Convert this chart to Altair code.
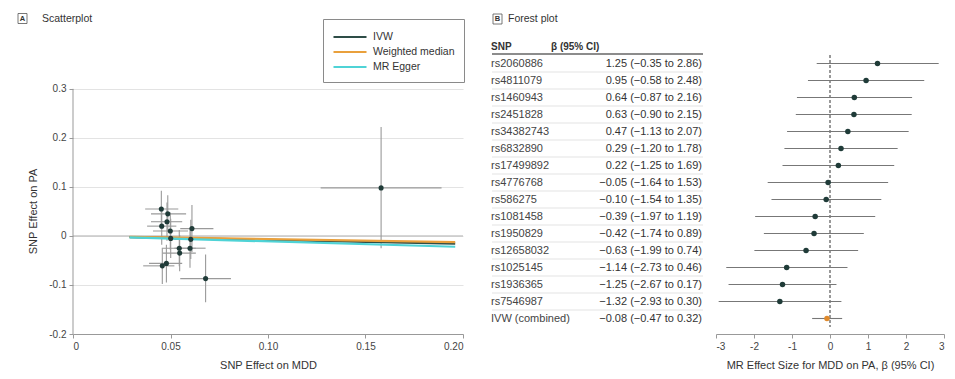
import altair as alt
import pandas as pd

FONT = "Liberation Sans, Arial, sans-serif"

# ---------------- Scatterplot data ----------------
snp_mdd = [0.0453, 0.0486, 0.0482, 0.0455, 0.0499, 0.0501, 0.0610, 0.0604, 0.0600, 0.0545, 0.0547, 0.0458, 0.0479, 0.0680, 0.1580]
snp_pa = [0.055, 0.045, 0.029, 0.020, 0.010, -0.005, 0.015, -0.007, -0.025, -0.025, -0.035, -0.061, -0.056, -0.087, 0.098]
mdd_lo = [0.037, 0.040, 0.040, 0.038, 0.041, 0.041, 0.055, 0.052, 0.052, 0.046, 0.046, 0.036, 0.039, 0.055, 0.127]
mdd_hi = [0.054, 0.058, 0.056, 0.053, 0.059, 0.059, 0.072, 0.069, 0.068, 0.063, 0.063, 0.052, 0.056, 0.081, 0.189]
pa_lo = [0.018, 0.008, -0.010, -0.018, -0.028, -0.045, -0.033, -0.047, -0.065, -0.062, -0.072, -0.098, -0.095, -0.135, -0.025]
pa_hi = [0.092, 0.083, 0.068, 0.058, 0.048, 0.035, 0.063, 0.033, 0.015, 0.012, 0.002, -0.024, -0.018, -0.038, 0.222]

methods = ["IVW", "Weighted median", "MR Egger"]
method_colors = ["#2e4d47", "#e9a03c", "#4fd3d6"]
line_x0 = [0.029, 0.029, 0.029]
line_x1 = [0.196, 0.196, 0.196]
line_y0 = [-0.0023, -0.0019, -0.0030]
line_y1 = [-0.0157, -0.0125, -0.0220]

x_ticks = [0, 0.05, 0.10, 0.15, 0.20]
y_ticks = [-0.2, -0.1, 0, 0.1, 0.2, 0.3]
y_axis_span = [-0.2, 0.3]

# ---------------- Forest plot data ----------------
snps = ["rs2060886", "rs4811079", "rs1460943", "rs2451828", "rs34382743", "rs6832890",
        "rs17499892", "rs4776768", "rs586275", "rs1081458", "rs1950829", "rs12658032",
        "rs1025145", "rs1936365", "rs7546987", "IVW (combined)"]
beta = [1.25, 0.95, 0.64, 0.63, 0.47, 0.29, 0.22, -0.05, -0.10, -0.39, -0.42, -0.63, -1.14, -1.25, -1.32, -0.08]
beta_lo = [-0.35, -0.58, -0.87, -0.90, -1.13, -1.20, -1.25, -1.64, -1.54, -1.97, -1.74, -1.99, -2.73, -2.67, -2.93, -0.47]
beta_hi = [2.86, 2.48, 2.16, 2.15, 2.07, 1.78, 1.69, 1.53, 1.35, 1.19, 0.89, 0.74, 0.46, 0.17, 0.30, 0.32]
forest_ticks = [-3, -2, -1, 0, 1, 2, 3]


def fmt(v):
    s = f"{v:.2f}"
    return s.replace("-", "\u2212")


labels = [f"{fmt(b)} ({fmt(l)} to {fmt(h)})" for b, l, h in zip(beta, beta_lo, beta_hi)]

# ---------------- Scatterplot ----------------
sc = pd.DataFrame({"x": snp_mdd, "y": snp_pa, "x_lo": mdd_lo, "x_hi": mdd_hi, "y_lo": pa_lo, "y_hi": pa_hi})
ln = pd.DataFrame({"method": methods, "x0": line_x0, "x1": line_x1, "y0": line_y0, "y1": line_y1})

xs = alt.Scale(domain=[0, 0.2], nice=False, zero=False)
ys = alt.Scale(domain=[-0.2, 0.4037], nice=False, zero=False)

axis_common = dict(labelFont=FONT, titleFont=FONT, labelFontSize=10, titleFontSize=11,
                   labelColor="#444", titleColor="#333", titleFontWeight="normal",
                   domainColor="#999", tickColor="#999", tickSize=4)

xaxis = alt.Axis(title="SNP Effect on MDD", values=x_ticks, grid=False, labelPadding=3, titlePadding=8,
                 labelExpr="datum.value == 0 ? '0' : format(datum.value, '.2f')", **axis_common)
yaxis = alt.Axis(title=None, values=y_ticks, grid=True, gridColor="#e3e3e3", labelPadding=3,
                 domain=False,
                 labelExpr="datum.value == 0 ? '0' : (datum.value < 0 ? '-' : '') + format(abs(datum.value), '.1f')",
                 **axis_common)

zero_line = alt.Chart(pd.DataFrame({"yz": [0]})).mark_rule(color="#b5b5b5", strokeWidth=1).encode(
    y=alt.Y("yz:Q", scale=ys, axis=yaxis))
yaxis_line = alt.Chart(pd.DataFrame({"xa": [0], "ya0": [y_axis_span[0]], "ya1": [y_axis_span[1]]})).mark_rule(
    color="#999", strokeWidth=1).encode(
    x=alt.X("xa:Q", scale=xs, axis=xaxis), y=alt.Y("ya0:Q", scale=ys, axis=yaxis), y2="ya1:Q")

errx = alt.Chart(sc).mark_rule(color="#9a9a9a", strokeWidth=1.1).encode(
    x=alt.X("x_lo:Q", scale=xs, axis=xaxis), x2="x_hi:Q", y=alt.Y("y:Q", scale=ys, axis=yaxis))
erry = alt.Chart(sc).mark_rule(color="#9a9a9a", strokeWidth=1.1).encode(
    x=alt.X("x:Q", scale=xs, axis=xaxis), y=alt.Y("y_lo:Q", scale=ys, axis=yaxis), y2="y_hi:Q")

lines = alt.Chart(ln).mark_rule(strokeWidth=2.2).encode(
    x=alt.X("x0:Q", scale=xs, axis=xaxis), x2="x1:Q",
    y=alt.Y("y0:Q", scale=ys, axis=yaxis), y2="y1:Q",
    color=alt.Color("method:N", scale=alt.Scale(domain=methods, range=method_colors), sort=methods,
                    title=None,
                    legend=alt.Legend(orient="none", legendX=250, legendY=-19, symbolType="M-1,0H3.4",
                                      symbolSize=225, symbolStrokeWidth=2.2, strokeColor="#8a8a8a",
                                      fillColor="white", padding=9, labelFont=FONT, labelFontSize=10.5,
                                      labelColor="#333", rowPadding=0, labelOffset=23)))

pts = alt.Chart(sc).mark_circle(size=26, color="#1f3b38", opacity=1).encode(
    x=alt.X("x:Q", scale=xs, axis=xaxis), y=alt.Y("y:Q", scale=ys, axis=yaxis))

ytitle = alt.Chart(pd.DataFrame({"t": ["SNP Effect on PA"]})).mark_text(
    font=FONT, fontSize=11, color="#333", align="center", baseline="middle", angle=270).encode(
    x=alt.value(-39), y=alt.value(173.5), text="t:N")

tA = pd.DataFrame({"t": ["A"]})
boxA = alt.Chart(tA).mark_rect(fill="white", stroke="#555", strokeWidth=0.8).encode(
    x=alt.value(-55), x2=alt.value(-46), y=alt.value(-24.5), y2=alt.value(-14.5))
letA = alt.Chart(tA).mark_text(font=FONT, fontSize=7.5, fontWeight="bold", color="#333",
                               align="center", baseline="middle").encode(
    x=alt.value(-50.5), y=alt.value(-19.3), text="t:N")
ttlA = alt.Chart(pd.DataFrame({"t": ["Scatterplot"]})).mark_text(
    font=FONT, fontSize=10.5, color="#333", align="left", baseline="middle").encode(
    x=alt.value(-31), y=alt.value(-19.5), text="t:N")

scatter = alt.layer(zero_line, yaxis_line, errx, erry, lines, pts, ytitle, boxA, letA, ttlA).properties(
    width=390, height=296, view=alt.ViewBackground(strokeOpacity=0, strokeWidth=0))

# ---------------- Forest plot ----------------
kind = ["snp"] * 15 + ["ivw"]
fd = pd.DataFrame({"row": snps, "beta": beta, "lo": beta_lo, "hi": beta_hi, "label": labels, "kind": kind})
ydom = ["hdr"] + snps
yS = alt.Scale(domain=ydom, paddingInner=0, paddingOuter=0)
fxS = alt.Scale(domain=[-3, 3], nice=False, zero=False)
faxis = alt.Axis(title="MR Effect Size for MDD on PA, \u03b2 (95% CI)", values=forest_ticks, grid=False,
                 offset=7, labelPadding=3, titlePadding=8,
                 labelExpr="(datum.value < 0 ? '-' : '') + format(abs(datum.value), 'd')", **axis_common)

fbars = alt.Chart(fd).mark_rule(color="#777", strokeWidth=1.1).encode(
    x=alt.X("lo:Q", scale=fxS, axis=faxis), x2="hi:Q", y=alt.Y("row:N", scale=yS, axis=None))
fzero = alt.Chart(pd.DataFrame({"z": [0]})).mark_rule(color="#333", strokeDash=[3, 2], strokeWidth=1).encode(
    x=alt.X("z:Q", scale=fxS, axis=faxis), y=alt.value(17), y2=alt.value(289))
fpts = alt.Chart(fd).mark_circle(size=30, opacity=1).encode(
    x=alt.X("beta:Q", scale=fxS, axis=faxis), y=alt.Y("row:N", scale=yS, axis=None),
    color=alt.Color("kind:N", scale=alt.Scale(domain=["snp", "ivw"], range=["#1f3b38", "#e08a2c"]), legend=None))

sep = alt.Chart(pd.DataFrame({"row": snps[1:]})).mark_rule(color="#dcdcdc", strokeWidth=0.8).encode(
    x=alt.value(-224), x2=alt.value(-13), y=alt.Y("row:N", scale=yS, axis=None, bandPosition=0))
hline = alt.Chart(pd.DataFrame({"row": ["hdr"]})).mark_rule(color="#666", strokeWidth=1.4).encode(
    x=alt.value(-224), x2=alt.value(-13), y=alt.value(16))

snp_txt = alt.Chart(fd).mark_text(font=FONT, fontSize=11, color="#444", align="left", baseline="middle").encode(
    x=alt.value(-225), y=alt.Y("row:N", scale=yS, axis=None), text="row:N")
beta_txt = alt.Chart(fd).mark_text(font=FONT, fontSize=11, color="#333", align="right", baseline="middle").encode(
    x=alt.value(-14), y=alt.Y("row:N", scale=yS, axis=None), text="label:N")

hdr = pd.DataFrame({"row": ["hdr", "hdr"], "t": ["SNP", "\u03b2 (95% CI)"], "col": ["a", "b"]})
hdr_snp = alt.Chart(hdr[hdr.col == "a"]).mark_text(font=FONT, fontSize=10, fontWeight="bold", color="#333",
                                                   align="left", baseline="middle").encode(
    x=alt.value(-225), y=alt.Y("row:N", scale=yS, axis=None), text="t:N")
hdr_beta = alt.Chart(hdr[hdr.col == "b"]).mark_text(font=FONT, fontSize=10, fontWeight="bold", color="#333",
                                                    align="left", baseline="middle").encode(
    x=alt.value(-165), y=alt.Y("row:N", scale=yS, axis=None), text="t:N")

tB = pd.DataFrame({"t": ["B"]})
boxB = alt.Chart(tB).mark_rect(fill="white", stroke="#555", strokeWidth=0.8).encode(
    x=alt.value(-223), x2=alt.value(-214), y=alt.value(-24), y2=alt.value(-14))
letB = alt.Chart(tB).mark_text(font=FONT, fontSize=7.5, fontWeight="bold", color="#333",
                               align="center", baseline="middle").encode(
    x=alt.value(-218.5), y=alt.value(-18.8), text="t:N")
ttlB = alt.Chart(pd.DataFrame({"t": ["Forest plot"]})).mark_text(
    font=FONT, fontSize=10.5, color="#333", align="left", baseline="middle").encode(
    x=alt.value(-208), y=alt.value(-19), text="t:N")

forest = alt.layer(sep, hline, fzero, fbars, fpts, snp_txt, beta_txt, hdr_snp, hdr_beta, boxB, letB, ttlB).properties(
    width=228, height=289, view=alt.ViewBackground(strokeOpacity=0, strokeWidth=0))

chart = alt.hconcat(scatter, forest, spacing=26).resolve_scale(color="independent").properties(
    padding={"left": 9, "top": 5, "right": 2, "bottom": 2}
).configure_view(strokeOpacity=0, strokeWidth=0).configure(background="white")

chart.save("out.html", embed_options={"renderer": "svg", "actions": False})
